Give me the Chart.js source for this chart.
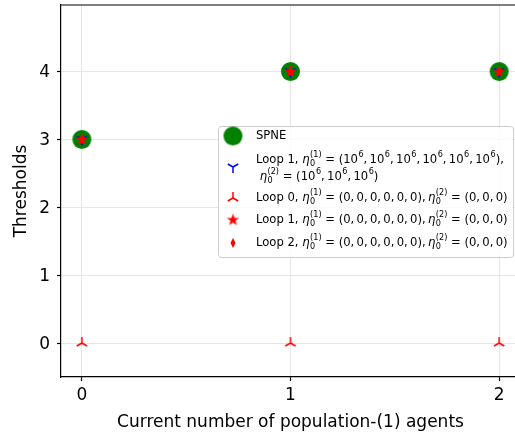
<!DOCTYPE html>
<html>
<head>
<meta charset="utf-8">
<script src="https://cdn.jsdelivr.net/npm/chart.js@4.4.0/dist/chart.umd.min.js"></script>
<style>
  html, body { margin: 0; padding: 0; overflow: hidden; background: #fff; }
</style>
</head>
<body>
<canvas id="thresholdChart" width="525" height="435"></canvas>
<script>
// x: current number of population-(1) agents
const agents = [0, 1, 2];
const xTicks = [0, 1, 2];
const yTicks = [0, 1, 2, 3, 4];

// threshold per run
const spne = [3, 4, 4];
const loop1Large = [3, 4, 4];
const loop0Zero = [0, 0, 0];
const loop1Zero = [3, 4, 4];
const loop2Zero = [3, 4, 4];

const FONT = '"DejaVu Sans", sans-serif';

// --- marker images (matplotlib-like shapes) ---
function markerCanvas(size, draw) {
    const c = document.createElement('canvas');
    c.width = size;
    c.height = size;
    const g = c.getContext('2d');
    g.translate(size / 2, size / 2);
    draw(g);
    return c;
}

function triMarker(color, r, down) {
    return markerCanvas(Math.ceil(2 * r + 4), g => {
        g.strokeStyle = color;
        g.lineWidth = 1.5;
        const s = down ? 1 : -1;
        g.beginPath();
        g.moveTo(0, 0); g.lineTo(0, s * r);
        g.moveTo(0, 0); g.lineTo(-0.866 * r, -s * 0.5 * r);
        g.moveTo(0, 0); g.lineTo(0.866 * r, -s * 0.5 * r);
        g.stroke();
    });
}

function starMarker(color, R) {
    return markerCanvas(Math.ceil(2 * R + 4), g => {
        g.fillStyle = color;
        g.beginPath();
        for (let i = 0; i < 10; i++) {
            const rr = i % 2 ? R * 0.4 : R;
            const a = -Math.PI / 2 + i * Math.PI / 5;
            g.lineTo(rr * Math.cos(a), rr * Math.sin(a));
        }
        g.closePath();
        g.fill();
    });
}

function thinDiamond(color, h) {
    return markerCanvas(Math.ceil(2 * h + 4), g => {
        g.fillStyle = color;
        g.beginPath();
        g.moveTo(0, -h); g.lineTo(h * 0.5, 0); g.lineTo(0, h); g.lineTo(-h * 0.5, 0);
        g.closePath();
        g.fill();
    });
}

function dotMarker(color, r) {
    return markerCanvas(Math.ceil(2 * r + 2), g => {
        g.fillStyle = color;
        g.beginPath();
        g.arc(0, 0, r, 0, Math.PI * 2);
        g.fill();
    });
}

const mkSpne = dotMarker('#008000', 9.5);
const mkBlue = triMarker('#0000ff', 6, true);
const mkLoop0 = triMarker('#ff0000', 6, false);
const mkStar = starMarker('#ff0000', 6.5);
const mkDiamond = thinDiamond('#ff0000', 5);

function pts(ys) {
    return agents.map((x, i) => ({ x, y: ys[i] }));
}

// --- legend with math labels ---
const TH = '\u2009';   // thin space after commas inside math
const eta = (sub, sup) => [{ i: '\u03b7' }, { sub, sup }];
const tuple = (vals) => '(' + vals.join(',' + TH) + ')';
const pow6 = (n) => {
    const parts = [{ t: '(10' }, { sup: '6' }];
    for (let k = 1; k < n; k++) parts.push({ t: ',' + TH + '10' }, { sup: '6' });
    return parts;
};
const zeroLine = (loop) => [
    { t: 'Loop ' + loop + ', ' }, ...eta('0', '(1)'), { t: ' = ' + tuple([0, 0, 0, 0, 0, 0]) + ',' + TH },
    ...eta('0', '(2)'), { t: ' = ' + tuple([0, 0, 0]) }
];

const legendRows = [
    { marker: mkSpne, y: 136, lines: [[{ t: 'SPNE' }]] },
    { marker: mkBlue, y: 167, lineYs: [160, 177], lines: [
        [{ t: 'Loop 1, ' }, ...eta('0', '(1)'), { t: ' = ' }, ...pow6(6), { t: '),' }],
        [{ t: ' ' }, ...eta('0', '(2)'), { t: ' = ' }, ...pow6(3), { t: ')' }]
    ] },
    { marker: mkLoop0, y: 198, lines: [zeroLine(0)] },
    { marker: mkStar, y: 220, lines: [zeroLine(1)] },
    { marker: mkDiamond, y: 243, lines: [zeroLine(2)] }
];

function drawRich(g, x, y, parts, size) {
    const small = size * 0.7;
    for (const p of parts) {
        if (p.t !== undefined) {
            g.font = `${size}px ${FONT}`;
            g.fillText(p.t, x, y);
            x += g.measureText(p.t).width;
        } else if (p.i !== undefined) {
            g.font = `italic ${size}px ${FONT}`;
            g.fillText(p.i, x, y);
            x += g.measureText(p.i).width + 0.5;
        } else if (p.sub !== undefined) {
            g.font = `${small}px ${FONT}`;
            g.fillText(p.sup, x, y - size * 0.45);
            g.fillText(p.sub, x, y + size * 0.3);
            x += Math.max(g.measureText(p.sup).width, g.measureText(p.sub).width);
        } else {
            g.font = `${small}px ${FONT}`;
            g.fillText(p.sup, x + 0.5, y - size * 0.45);
            x += g.measureText(p.sup).width + 0.5;
        }
    }
}

const legendPlugin = {
    id: 'mathLegend',
    afterDraw(chart) {
        const g = chart.ctx;
        const box = { x: 218, y: 126, w: 295, h: 131 };
        g.save();
        g.beginPath();
        g.roundRect(box.x + 0.5, box.y + 0.5, box.w, box.h, 3);
        g.fillStyle = 'rgba(255,255,255,0.8)';
        g.fill();
        g.strokeStyle = '#cccccc';
        g.lineWidth = 1;
        g.stroke();
        g.fillStyle = '#000';
        g.textBaseline = 'middle';
        g.textAlign = 'left';
        for (const row of legendRows) {
            const m = row.marker;
            g.drawImage(m, 233 - m.width / 2, row.y - m.height / 2);
            const ys = row.lineYs || [row.y];
            row.lines.forEach((ln, i) => drawRich(g, 256, ys[i], ln, 11.6));
        }
        g.restore();
    }
};

// top / right frame lines
const framePlugin = {
    id: 'frame',
    afterDatasetsDraw(chart) {
        const { ctx, chartArea: a } = chart;
        ctx.save();
        ctx.strokeStyle = '#000';
        ctx.lineWidth = 1.2;
        ctx.beginPath();
        ctx.moveTo(a.left, a.top);
        ctx.lineTo(a.right, a.top);
        ctx.lineTo(a.right, a.bottom);
        ctx.stroke();
        ctx.restore();
    }
};

const tickFont = { family: FONT, size: 17 };

new Chart(document.getElementById('thresholdChart'), {
    type: 'scatter',
    data: {
        datasets: [
            { label: 'SPNE', data: pts(spne), pointStyle: mkSpne, order: 5 },
            { label: 'Loop 1 (1e6)', data: pts(loop1Large), pointStyle: mkBlue, order: 4 },
            { label: 'Loop 0', data: pts(loop0Zero), pointStyle: mkLoop0, order: 3 },
            { label: 'Loop 1', data: pts(loop1Zero), pointStyle: mkStar, order: 2 },
            { label: 'Loop 2', data: pts(loop2Zero), pointStyle: mkDiamond, order: 1 }
        ]
    },
    options: {
        responsive: false,
        animation: false,
        clip: false,
        layout: { padding: { top: 5, right: 5, left: 0, bottom: 0 } },
        plugins: {
            legend: { display: false },
            tooltip: { enabled: false }
        },
        scales: {
            x: {
                type: 'linear',
                min: -0.1,
                max: 2.1,
                afterBuildTicks: s => { s.ticks = xTicks.map(v => ({ value: v })); },
                afterFit: s => { s.height = 58; s.paddingLeft = 0; s.paddingRight = 0; },
                ticks: { font: tickFont, color: '#000', padding: 4 },
                grid: { color: '#e6e6e6', lineWidth: 1, tickColor: '#000', tickLength: 4, tickWidth: 1.2 },
                border: { color: '#000', width: 1.2 },
                title: {
                    display: true,
                    text: 'Current number of population-(1) agents',
                    font: tickFont,
                    color: '#000',
                    padding: { top: 0, bottom: 2 }
                }
            },
            y: {
                min: -0.5,
                max: 4.98,
                afterBuildTicks: s => { s.ticks = yTicks.map(v => ({ value: v })); },
                afterFit: s => { s.width = 61; s.paddingTop = 0; s.paddingBottom = 0; },
                ticks: { font: tickFont, color: '#000', padding: 7, labelOffset: 1.5 },
                grid: { color: '#e6e6e6', lineWidth: 1, tickColor: '#000', tickLength: 4, tickWidth: 1.2 },
                border: { color: '#000', width: 1.2 },
                title: {
                    display: true,
                    text: 'Thresholds',
                    font: tickFont,
                    color: '#000',
                    padding: { top: 11, bottom: 0 }
                }
            }
        }
    },
    plugins: [framePlugin, legendPlugin]
});
</script>
</body>
</html>
